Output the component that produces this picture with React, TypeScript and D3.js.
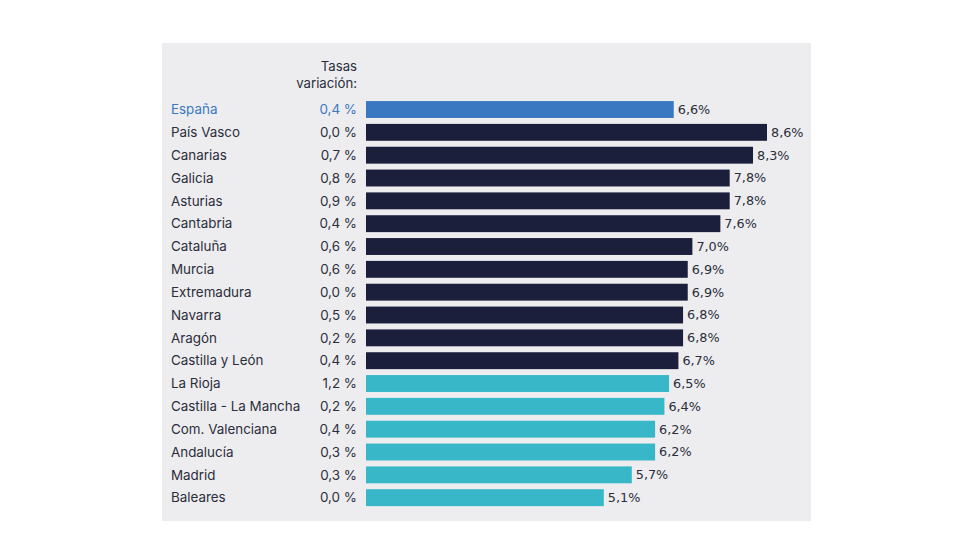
import React from "react";
import * as d3 from "d3";

const regions = ["España","País Vasco","Canarias","Galicia","Asturias","Cantabria","Cataluña","Murcia","Extremadura","Navarra","Aragón","Castilla y León","La Rioja","Castilla - La Mancha","Com. Valenciana","Andalucía","Madrid","Baleares"];
const values = [6.6,8.6,8.3,7.8,7.8,7.6,7.0,6.9,6.9,6.8,6.8,6.7,6.5,6.4,6.2,6.2,5.7,5.1];
const rates = ["0,4 %","0,0 %","0,7 %","0,8 %","0,9 %","0,4 %","0,6 %","0,6 %","0,0 %","0,5 %","0,2 %","0,4 %","1,2 %","0,2 %","0,4 %","0,3 %","0,3 %","0,0 %"];
const groups = ["esp","high","high","high","high","high","high","high","high","high","high","high","low","low","low","low","low","low"];

const colorMap: Record<string,string> = { esp: "#3a78c2", high: "#1c1f3c", low: "#37b7c7" };

export default function App() {
  const x = d3.scaleLinear().domain([0, 8.6]).range([366, 767]);
  const y = d3.scaleBand().domain(regions).range([98.1, 509.1]).paddingInner(0.26).paddingOuter(0.13);
  const fmt = (v: number) => d3.format(".1f")(v).replace(".", ",") + "%";
  const lf = "Inter, 'Open Sans', sans-serif";
  return (
    <svg width={980} height={560} style={{ position: "absolute", left: 0, top: 0 }}>
      <rect x={0} y={0} width={980} height={560} fill="#ffffff" />
      <rect x={162} y={43} width={649} height={478} fill="#ededf0" />
      <text x={357} y={71} textAnchor="end" fontFamily={lf} fontSize={13.2} fill="#2b2d3a">Tasas</text>
      <text x={357} y={88} textAnchor="end" fontFamily={lf} fontSize={13.2} fill="#2b2d3a">variación:</text>
      {regions.map((r, i) => {
        const yy = y(r)!;
        const h = y.bandwidth();
        const cy = yy + h / 2;
        const isEsp = groups[i] === "esp";
        const tc = isEsp ? "#3a78c2" : "#2b2d3a";
        return (
          <g key={r}>
            <text x={171} y={cy} dy="0.35em" fontFamily={lf} fontSize={13.4} fill={tc}>{r}</text>
            <text x={357} y={cy} dy="0.35em" textAnchor="end" fontFamily={lf} fontSize={13.4} fill={tc}>{rates[i]}</text>
            <rect x={x(0)} y={yy} width={x(values[i]) - x(0)} height={h} fill={colorMap[groups[i]]} />
            <text x={x(values[i]) + 4} y={cy} dy="0.35em" fontFamily="'DejaVu Sans', Verdana, sans-serif" fontSize={12.8} fill="#2b2d3a">{fmt(values[i])}</text>
          </g>
        );
      })}
    </svg>
  );
}
